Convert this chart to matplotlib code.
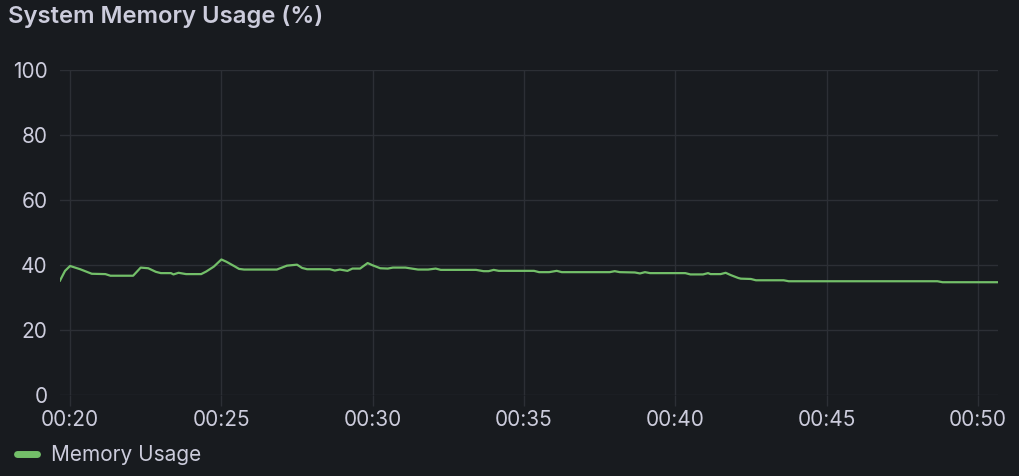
import matplotlib
matplotlib.use("Agg")
import matplotlib.pyplot as plt
import matplotlib.dates as mdates
from matplotlib.lines import Line2D
import pandas as pd

times = ["00:19:40", "00:19:50", "00:20:00", "00:20:20", "00:20:43", "00:21:10", "00:21:20",
         "00:22:05", "00:22:20", "00:22:35", "00:22:50", "00:23:00", "00:23:20", "00:23:25",
         "00:23:35", "00:23:50", "00:24:20", "00:24:30", "00:24:45", "00:25:00", "00:25:10",
         "00:25:25", "00:25:35", "00:25:45", "00:26:50", "00:27:10", "00:27:30", "00:27:40",
         "00:27:50", "00:28:35", "00:28:45", "00:28:55", "00:29:10", "00:29:20", "00:29:35",
         "00:29:50", "00:30:00", "00:30:15", "00:30:30", "00:30:40", "00:31:05", "00:31:30",
         "00:31:50", "00:32:05", "00:32:15", "00:33:25", "00:33:40", "00:33:50", "00:34:00",
         "00:34:10", "00:35:20", "00:35:30", "00:35:50", "00:36:05", "00:36:15", "00:37:50",
         "00:38:00", "00:38:10", "00:38:40", "00:38:50", "00:39:00", "00:39:10", "00:40:20",
         "00:40:30", "00:40:55", "00:41:05", "00:41:10", "00:41:30", "00:41:40", "00:41:50",
         "00:42:05", "00:42:10", "00:42:30", "00:42:40", "00:43:35", "00:43:45", "00:48:40",
         "00:48:50", "00:50:40"]
memory = [35.2, 38.2, 39.7, 38.7, 37.3, 37.2, 36.7,
          36.7, 39.2, 39.0, 37.9, 37.5, 37.5, 37.1,
          37.6, 37.2, 37.2, 38.0, 39.5, 41.7, 41.0,
          39.7, 38.8, 38.6, 38.6, 39.8, 40.1, 39.1,
          38.7, 38.7, 38.3, 38.6, 38.2, 38.9, 38.9,
          40.6, 39.9, 39.0, 38.9, 39.2, 39.2, 38.6,
          38.6, 38.9, 38.5, 38.5, 38.1, 38.1, 38.5,
          38.2, 38.2, 37.8, 37.8, 38.2, 37.8, 37.8,
          38.1, 37.8, 37.7, 37.4, 37.8, 37.5, 37.5,
          37.1, 37.1, 37.5, 37.2, 37.2, 37.6, 36.9,
          36.0, 35.8, 35.7, 35.3, 35.3, 35.0, 35.0,
          34.7, 34.7]
y_ticks = [0, 20, 40, 60, 80, 100]
title = "System Memory Usage (%)"
series_name = "Memory Usage"

BG = "#181b1f"
GRID = "#2c2f35"
TEXT = "#ccccdc"
GREEN = "#73bf69"

plt.rcParams['font.family'] = ['Inter', 'DejaVu Sans']

t = pd.to_datetime(["2024-01-01 " + s for s in times])

W, H = 1019, 476
fig = plt.figure(figsize=(W / 100, H / 100), dpi=100, facecolor=BG)
ax = fig.add_axes([60 / W, 1 - 395 / H, (998 - 60) / W, (395 - 70) / H], facecolor=BG)

ax.plot(t, memory, color=GREEN, linewidth=1.6, solid_joinstyle='round')

ax.set_xlim(t[0], t[-1])
ax.set_ylim(0, 100)
ax.set_yticks(y_ticks)
ax.xaxis.set_major_locator(mdates.MinuteLocator(byminute=range(0, 60, 5)))
ax.xaxis.set_major_formatter(mdates.DateFormatter("%H:%M"))

for s in ax.spines.values():
    s.set_visible(False)
ax.grid(True, color=GRID, linewidth=1)
ax.set_axisbelow(True)
ax.tick_params(axis='y', length=0, pad=9, labelsize=15, labelcolor=TEXT)
ax.tick_params(axis='x', length=8, width=1, color=GRID, pad=3, labelsize=15, labelcolor=TEXT)

fig.text(8 / W, 1 - 17 / H, title, color=TEXT, fontsize=17.2, fontweight='semibold',
         ha='left', va='center')

handle = Line2D([0], [0], color=GREEN, linewidth=5, solid_capstyle='round')
leg = fig.legend([handle], [series_name], loc='center left',
                 bbox_to_anchor=(-2 / W, 1 - 455 / H), frameon=False,
                 handlelength=0.95, handletextpad=0.7, fontsize=15)
for txt in leg.get_texts():
    txt.set_color(TEXT)

fig.savefig("out.png", dpi=100, facecolor=BG)
